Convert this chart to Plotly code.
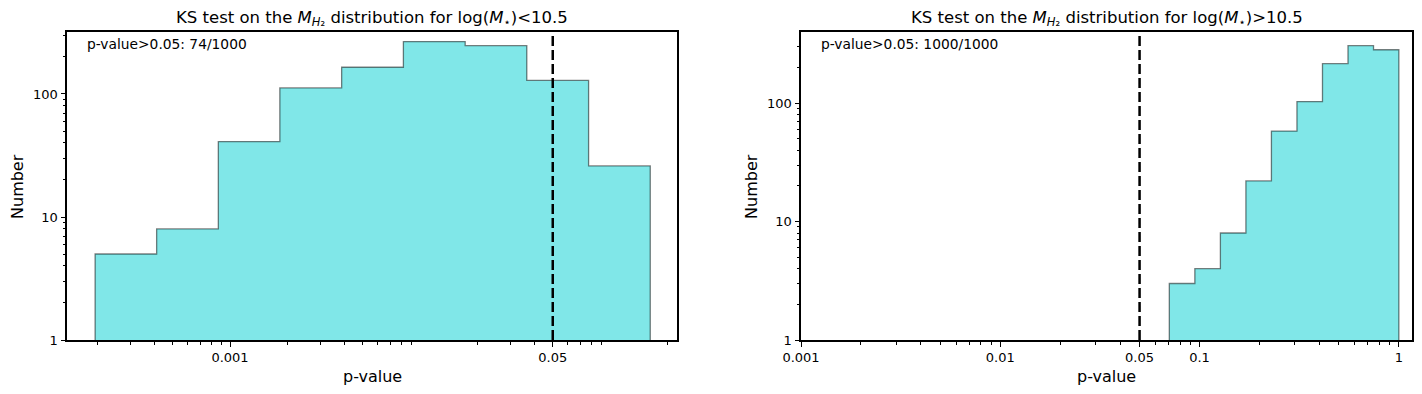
import plotly.graph_objects as go

# bin edges and counts
low_edges = [1.95e-4, 4.11e-4, 8.68e-4, 1.83e-3, 3.87e-3, 8.18e-3, 1.73e-2, 3.65e-2, 7.72e-2, 1.63e-1]
low_counts = [5, 8, 41, 112, 165, 267, 247, 129, 26]

high_edges = [0.0705, 0.0947, 0.1272, 0.1708, 0.2294, 0.3081, 0.4138, 0.5557, 0.7463, 1.0]
high_counts = [3, 4, 8, 22, 58, 103, 215, 305, 282]

p_cut = 0.05
low_text = "p-value>0.05: 74/1000"
high_text = "p-value>0.05: 1000/1000"

low_title = "KS test on the <i>M</i><sub><i>H</i>₂</sub> distribution for log(<i>M</i><sub>⋆</sub>)<10.5"
high_title = "KS test on the <i>M</i><sub><i>H</i>₂</sub> distribution for log(<i>M</i><sub>⋆</sub>)>10.5"

low_xticks = [0.001, 0.05]
high_xticks = [0.001, 0.01, 0.05, 0.1, 1]
yticks = [1, 10, 100]

FILL = "rgba(128,231,232,1)"
EDGE = "rgba(0,0,0,0.5)"
FONT = "DejaVu Sans"


def step_outline(edges, counts):
    # closed polygon like matplotlib's stepfilled histogram
    xs = [edges[0]]
    ys = [1]
    for i, c in enumerate(counts):
        xs += [edges[i], edges[i + 1]]
        ys += [c, c]
    xs.append(edges[-1])
    ys.append(1)
    return xs, ys


def minor_vals(lo_exp, hi_exp):
    vals = []
    for e in range(lo_exp, hi_exp + 1):
        for m in range(2, 10):
            vals.append(m * 10.0 ** e)
    return vals


fig = go.Figure()

panels = [
    ("x", "y", low_edges, low_counts, low_text, low_title),
    ("x2", "y2", high_edges, high_counts, high_text, high_title),
]

for xa, ya, edges, counts, txt, title in panels:
    xs, ys = step_outline(edges, counts)
    fig.add_trace(go.Scatter(
        x=xs, y=ys, xaxis=xa, yaxis=ya,
        mode="lines", fill="toself", fillcolor=FILL,
        line=dict(color=EDGE, width=1.3),
        hoverinfo="skip", showlegend=False,
    ))
    fig.add_trace(go.Scatter(
        x=[p_cut, p_cut], y=[1, 10000], xaxis=xa, yaxis=ya,
        mode="lines", line=dict(color="black", width=2.5, dash="10px,4px"),
        hoverinfo="skip", showlegend=False,
    ))
    suffix = xa[1:]
    xd, yd = f"x{suffix} domain", f"y{suffix} domain"
    fig.add_annotation(
        text=txt, xref=xd, yref=yd,
        x=0.03, y=0.961, xanchor="left", yanchor="middle",
        showarrow=False, font=dict(size=13.8, color="black"),
    )
    fig.add_annotation(
        text=title, xref=xd, yref=yd,
        x=0.5, y=1.045, xanchor="center", yanchor="middle",
        showarrow=False, font=dict(size=16.5, color="black"),
    )
    fig.add_annotation(
        text="p-value", xref=xd, yref=yd,
        x=0.5, y=-0.117, xanchor="center", yanchor="middle",
        showarrow=False, font=dict(size=16, color="black"),
    )
    fig.add_annotation(
        text="Number", xref=xd, yref=yd, textangle=-90,
        x=-0.082, y=0.5, xanchor="center", yanchor="middle",
        showarrow=False, font=dict(size=16, color="black"),
    )

axis_common = dict(
    type="log", showgrid=False, zeroline=False, automargin=False,
    showline=True, mirror=True, linecolor="black", linewidth=2,
    ticks="outside", ticklen=4.5, tickwidth=1, tickcolor="black",
    tickfont=dict(size=13, color="black"),
)
minor_common = dict(ticks="outside", ticklen=2.5, tickcolor="black", tickwidth=0.8)

fig.update_layout(
    width=1422, height=394,
    margin=dict(l=0, r=0, t=0, b=0),
    paper_bgcolor="white", plot_bgcolor="white",
    font=dict(family=FONT, color="black"),
    xaxis=dict(
        axis_common, domain=[67 / 1422, 677 / 1422], range=[-3.858, -0.647],
        tickvals=low_xticks, ticktext=["0.001", "0.05"],
        minor=dict(minor_common,
                   tickvals=[v for v in minor_vals(-4, -1) if 1.4e-4 < v < 0.225]),
        anchor="y",
    ),
    yaxis=dict(
        axis_common, domain=[54 / 394, 362 / 394], range=[0, 2.504],
        tickvals=yticks, ticktext=["1", "10", "100"],
        minor=dict(minor_common, tickvals=minor_vals(0, 2)),
        anchor="x",
    ),
    xaxis2=dict(
        axis_common, domain=[801 / 1422, 1412 / 1422], range=[-3, 0.066],
        tickvals=high_xticks, ticktext=["0.001", "0.01", "0.05", "0.1", "1"],
        minor=dict(minor_common, tickvals=[v for v in minor_vals(-3, 0) if v < 1.16]),
        anchor="y2",
    ),
    yaxis2=dict(
        axis_common, domain=[54 / 394, 362 / 394], range=[0, 2.60],
        tickvals=yticks, ticktext=["1", "10", "100"],
        minor=dict(minor_common, tickvals=minor_vals(0, 2)),
        anchor="x2",
    ),
)

# drop the browser's default body margin so the figure sits at the page corner
fig.write_html(
    "out.html",
    config={"displayModeBar": False},
    post_script="document.body.style.margin = '0';",
)
